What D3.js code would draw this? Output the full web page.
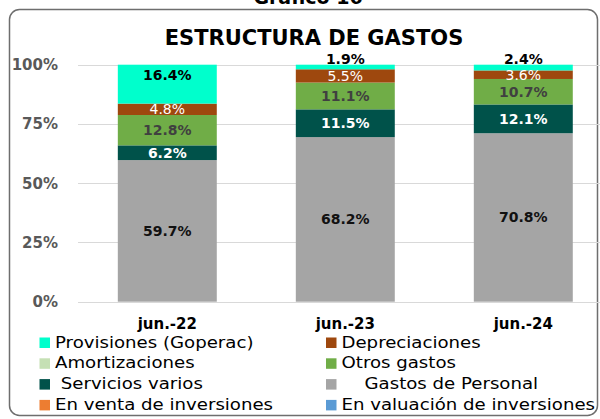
<!DOCTYPE html>
<html>
<head>
<meta charset="utf-8">
<script src="https://cdn.jsdelivr.net/npm/d3@7"></script>
<style>
	body { margin: 0; background: #fff; }
	svg { display: block; }
	text { font-family: "DejaVu Sans", Verdana, sans-serif; white-space: pre; }
</style>
</head>
<body>
<div id="chart"></div>
<script>
(function(){
	// values (percent of total expenses)
	var categories = ["jun.-22", "jun.-23", "jun.-24"];
	var personal = [59.7, 68.2, 70.8];
	var servicios = [6.2, 11.5, 12.1];
	var otros = [12.8, 11.1, 10.7];
	var amortizaciones = [0, 0, 0];
	var depreciaciones = [4.8, 5.5, 3.6];
	var provisiones = [16.4, 1.9, 2.4];
	var ventaInv = [0, 0, 0];
	var valuacionInv = [0, 0, 0];
	var yTicks = [0, 0.25, 0.5, 0.75, 1];

	// bottom to top
	var series = [
		{key: "personal", name: "    Gastos de Personal", values: personal, color: "#A5A5A5", label: "#111111", weight: "bold"},
		{key: "servicios", name: " Servicios varios", values: servicios, color: "#00524A", label: "#FFFFFF", weight: "bold"},
		{key: "otros", name: "Otros gastos", values: otros, color: "#70AD47", label: "#404040", weight: "bold"},
		{key: "amort", name: "Amortizaciones", values: amortizaciones, color: "#C5E0B4", label: "#404040", weight: "bold"},
		{key: "deprec", name: "Depreciaciones", values: depreciaciones, color: "#9E480E", label: "#FFFFFF", weight: "normal"},
		{key: "provis", name: "Provisiones (Goperac)", values: provisiones, color: "#00FFCC", label: "#000000", weight: "bold"},
		{key: "venta", name: "En venta de inversiones", values: ventaInv, color: "#ED7D31", label: "#000000", weight: "bold"},
		{key: "valua", name: "En valuación de inversiones", values: valuacionInv, color: "#5B9BD5", label: "#000000", weight: "bold"}
	];
	var legendOrder = ["provis", "deprec", "amort", "otros", "servicios", "personal", "venta", "valua"];

	var width = 600, height = 419;
	var svg = d3.select("#chart").append("svg")
		.attr("width", width)
		.attr("height", height);

	// frame
	svg.append("rect")
		.attr("x", 9.5).attr("y", 9.5)
		.attr("width", 588).attr("height", 406)
		.attr("rx", 10).attr("ry", 10)
		.attr("fill", "#fff")
		.attr("stroke", "#6E6E6E")
		.attr("stroke-width", 1.5);

	// heading cut at the top edge
	svg.append("text")
		.attr("x", 308).attr("y", 4)
		.attr("text-anchor", "middle")
		.attr("font-size", "19px")
		.attr("font-weight", "bold")
		.text("Gráfico 16");

	svg.append("text")
		.attr("x", 314).attr("y", 45)
		.attr("text-anchor", "middle")
		.attr("font-size", "21px")
		.attr("font-weight", "bold")
		.attr("fill", "#000")
		.text("ESTRUCTURA DE GASTOS");

	var rows = categories.map(function(c, i){
		var r = {cat: c};
		series.forEach(function(s){ r[s.key] = s.values[i]; });
		return r;
	});

	var stack = d3.stack()
		.keys(series.map(function(s){ return s.key; }))
		.offset(d3.stackOffsetExpand);
	var layers = stack(rows);

	var x = d3.scaleBand()
		.domain(categories)
		.range([78.3, 612.3])
		.paddingInner(0.444)
		.paddingOuter(0.222);

	var y = d3.scaleLinear()
		.domain([0, 1])
		.range([301.7, 64.7]);

	// gridlines
	svg.append("g").selectAll("line")
		.data(yTicks)
		.enter().append("line")
		.attr("x1", 78).attr("x2", 600)
		.attr("y1", function(d){ return Math.round(y(d)) + 0.5; })
		.attr("y2", function(d){ return Math.round(y(d)) + 0.5; })
		.attr("stroke", "#D9D9D9")
		.attr("stroke-width", 1.2);

	// y axis labels
	var yAxis = d3.axisLeft(y)
		.tickValues(yTicks)
		.tickFormat(d3.format(".0%"))
		.tickSize(0)
		.tickPadding(0);
	var ya = svg.append("g")
		.attr("transform", "translate(58,0)")
		.call(yAxis);
	ya.select(".domain").remove();
	ya.selectAll("text")
		.attr("font-family", "DejaVu Sans, sans-serif")
		.attr("font-size", "15px")
		.attr("font-weight", "bold")
		.attr("fill", "#595959");

	// x axis labels
	var xAxis = d3.axisBottom(x).tickSize(0).tickPadding(0);
	var xa = svg.append("g")
		.attr("transform", "translate(0,318)")
		.call(xAxis);
	xa.select(".domain").remove();
	xa.selectAll("text")
		.attr("font-family", "DejaVu Sans, sans-serif")
		.attr("font-size", "15px")
		.attr("font-weight", "bold")
		.attr("fill", "#000")
		.attr("dy", "0.71em");

	// bars
	var info = {};
	series.forEach(function(s){ info[s.key] = s; });

	var groups = svg.append("g").selectAll("g")
		.data(layers)
		.enter().append("g")
		.attr("fill", function(d){ return info[d.key].color; });

	groups.selectAll("rect")
		.data(function(d){ return d; })
		.enter().append("rect")
		.attr("x", function(d){ return x(d.data.cat); })
		.attr("width", x.bandwidth())
		.attr("y", function(d){ return y(d[1]); })
		.attr("height", function(d){ return y(d[0]) - y(d[1]); });

	// data labels
	layers.forEach(function(layer){
		var s = info[layer.key];
		layer.forEach(function(d, i){
			var v = s.values[i];
			if (!v) return;
			var top = y(d[1]), bot = y(d[0]);
			var ty, col = s.label;
			if (layer.key == "provis") {
				// small top slice: label sits on the bar, otherwise inside end
				ty = (bot - top) < 10 ? top - 1 : top + 15.5;
			} else {
				ty = (top + bot) / 2 + 5;
			}
			svg.append("text")
				.attr("x", x(d.data.cat) + x.bandwidth() / 2)
				.attr("y", ty)
				.attr("text-anchor", "middle")
				.attr("font-size", "14px")
				.attr("font-weight", s.weight)
				.attr("fill", col)
				.text(v.toFixed(1) + "%");
		});
	});

	// legend, two columns
	var legend = svg.append("g");
	legendOrder.forEach(function(k, i){
		var s = info[k];
		var col = i % 2, row = Math.floor(i / 2);
		var bx = col == 0 ? 39.5 : 326;
		var base = 347.5 + row * 20.8;
		legend.append("rect")
			.attr("x", bx).attr("y", base - 10)
			.attr("width", 10.5).attr("height", 10.5)
			.attr("fill", s.color);
		legend.append("text")
			.attr("transform", "translate(" + (bx + 15.5) + "," + base + ") scale(1.1,1)")
			.attr("font-size", "16.5px")
			.attr("fill", "#000")
			.text(s.name);
	});
})();
</script>
</body>
</html>
